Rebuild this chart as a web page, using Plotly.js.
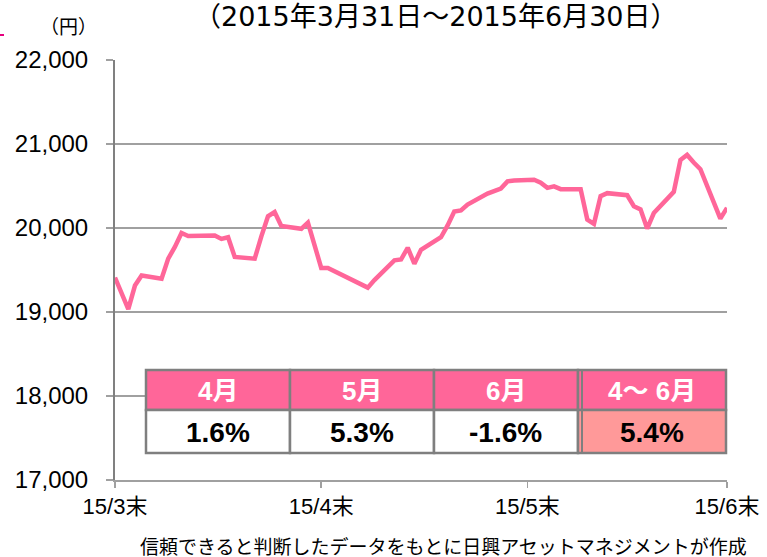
<!DOCTYPE html>
<html>
<head>
<meta charset="utf-8">
<script src="https://cdn.plot.ly/plotly-3.0.1.min.js"></script>
<style>
html,body{margin:0;padding:0;background:#fff;}
#chart{width:767px;height:557px;}
</style>
</head>
<body>
<div id="chart"></div>
<script>
// ---- data ----
const dates = [
 '2015-03-30','2015-03-31','2015-04-01','2015-04-02','2015-04-03','2015-04-06','2015-04-07','2015-04-08','2015-04-09','2015-04-10',
 '2015-04-13','2015-04-14','2015-04-15','2015-04-16','2015-04-17','2015-04-20','2015-04-21','2015-04-22','2015-04-23','2015-04-24',
 '2015-04-27','2015-04-28','2015-04-30','2015-05-01','2015-05-07','2015-05-08','2015-05-11','2015-05-12','2015-05-13','2015-05-14',
 '2015-05-15','2015-05-18','2015-05-19','2015-05-20','2015-05-21','2015-05-22','2015-05-25','2015-05-26','2015-05-27','2015-05-28',
 '2015-05-29','2015-06-01','2015-06-02','2015-06-03','2015-06-04','2015-06-05','2015-06-08','2015-06-09','2015-06-10','2015-06-11',
 '2015-06-12','2015-06-15','2015-06-16','2015-06-17','2015-06-18','2015-06-19','2015-06-22','2015-06-23','2015-06-24','2015-06-25',
 '2015-06-26','2015-06-29','2015-06-30'];
const nikkei = [
 19410,19210,19035,19315,19435,19395,19635,19775,19940,19905,
 19905,19910,19870,19890,19655,19635,19900,20140,20190,20025,
 19990,20065,19525,19525,19290,19380,19615,19625,19765,19575,
 19740,19890,20030,20195,20210,20280,20410,20440,20470,20555,
 20565,20575,20540,20478,20495,20462,20462,20100,20050,20380,
 20415,20390,20260,20222,19993,20178,20430,20810,20870,20780,
 20700,20112,20240];
const tickDates = ['2015-03-30','2015-04-30','2015-05-31','2015-06-30'];
const tickLabels = ['15/3末','15/4末','15/5末','15/6末'];
const periods = ['4月','5月','6月','4～ 6月'];
const returns = ['1.6%','5.3%','-1.6%','5.4%'];

// ---- layout geometry ----
const W = 767, H = 557;
const L = 115, R = 727, T = 60, B = 480;
const px = x => (x - L) / (R - L);
const py = y => (B - y) / (B - T);
const FONT = '"Liberation Sans", Arial, "Noto Sans CJK JP", sans-serif';
const TFONT = '"DejaVu Sans", "Noto Sans CJK JP", sans-serif';
const pink = '#FF6699', salmon = '#FF9999', border = '#7F7F7F';

const colEdges = [146, 290, 434, 578, 726];
const rowEdges = [370, 410, 453];

const shapes = [];
const annotations = [];
for (let i = 0; i < periods.length; i++) {
  const x0 = colEdges[i], x1 = colEdges[i + 1];
  shapes.push({type:'rect', xref:'paper', yref:'paper', x0:px(x0), x1:px(x1), y0:py(rowEdges[1]), y1:py(rowEdges[0]),
    fillcolor:pink, line:{color:border, width:2.5}, layer:'above'});
  shapes.push({type:'rect', xref:'paper', yref:'paper', x0:px(x0), x1:px(x1), y0:py(rowEdges[2]), y1:py(rowEdges[1]),
    fillcolor:(i === periods.length - 1 ? salmon : '#FFFFFF'), line:{color:border, width:2.5}, layer:'above'});
  annotations.push({xref:'paper', yref:'paper', x:px((x0 + x1) / 2), y:py((rowEdges[0] + rowEdges[1]) / 2 + 1),
    text:'<b>' + periods[i] + '</b>', showarrow:false, font:{family:FONT, size:26, color:'#FFFFFF'}, xanchor:'center', yanchor:'middle'});
  annotations.push({xref:'paper', yref:'paper', x:px((x0 + x1) / 2), y:py((rowEdges[1] + rowEdges[2]) / 2 + 1),
    text:'<b>' + returns[i] + '</b>', showarrow:false, font:{family:FONT, size:28, color:'#000000'}, xanchor:'center', yanchor:'middle'});
}
// double separator before last column
shapes.push({type:'line', xref:'paper', yref:'paper', x0:px(582), x1:px(582), y0:py(rowEdges[2]), y1:py(rowEdges[0]),
  line:{color:border, width:2}, layer:'above'});
// small mark top-left
shapes.push({type:'line', xref:'paper', yref:'paper', x0:px(0), x1:px(4), y0:py(35), y1:py(35),
  line:{color:'#E6007E', width:2}, layer:'above'});

annotations.push({xref:'paper', yref:'paper', x:px(436), y:py(17), text:'（2015年3月31日～2015年6月30日）',
  showarrow:false, font:{family:TFONT, size:27, color:'#000'}, xanchor:'center', yanchor:'middle'});
annotations.push({xref:'paper', yref:'paper', x:px(68), y:py(27), text:'（円）',
  showarrow:false, font:{family:FONT, size:19, color:'#000'}, xanchor:'center', yanchor:'middle'});
annotations.push({xref:'paper', yref:'paper', x:px(443), y:py(547), text:'信頼できると判断したデータをもとに日興アセットマネジメントが作成',
  showarrow:false, font:{family:FONT, size:19, color:'#000'}, xanchor:'center', yanchor:'middle'});

const trace = {
  x: dates, y: nikkei, type:'scatter', mode:'lines',
  line:{color:pink, width:4.5}, hoverinfo:'x+y'
};

const layout = {
  width:W, height:H,
  margin:{l:L, r:W - R, t:T, b:H - B, pad:0},
  paper_bgcolor:'#fff', plot_bgcolor:'#fff',
  showlegend:false,
  xaxis:{type:'date', range:['2015-03-30','2015-06-30'], tickmode:'array', tickvals:tickDates, ticktext:tickLabels,
    showgrid:false, zeroline:false, showline:true, linecolor:'#A0A0A0', linewidth:2,
    ticks:'outside', ticklen:6, tickcolor:'#A0A0A0', tickwidth:1.5,
    tickfont:{family:FONT, size:22, color:'#000'}, fixedrange:true},
  yaxis:{range:[17000,22000], dtick:1000, tick0:17000, tickformat:',d', separatethousands:true,
    showgrid:true, gridcolor:'#A0A0A0', gridwidth:2, zeroline:false,
    showline:true, linecolor:'#808080', linewidth:2,
    ticks:'outside', ticklen:7, tickcolor:'#A0A0A0', tickwidth:2, ticklabelstandoff:13,
    tickfont:{family:FONT, size:24, color:'#000'}, fixedrange:true},
  shapes:shapes,
  annotations:annotations
};

Plotly.newPlot('chart', [trace], layout, {displayModeBar:false, staticPlot:true});
</script>
</body>
</html>
